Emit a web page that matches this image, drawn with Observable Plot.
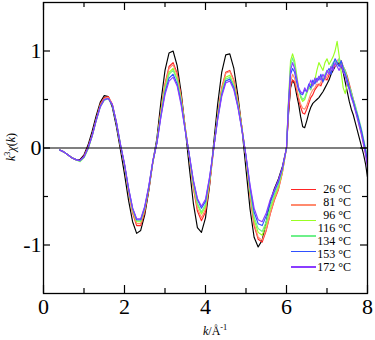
<!DOCTYPE html>
<html><head><meta charset="utf-8">
<script src="https://cdn.jsdelivr.net/npm/d3@7"></script>
<script src="https://cdn.jsdelivr.net/npm/@observablehq/plot@0.6"></script>
<style>
body{margin:0;background:#fff;}
#wrap{position:relative;width:375px;height:340px;font-family:"Liberation Serif","Times New Roman",serif;color:#000;}
.lab{position:absolute;white-space:nowrap;}
.sw{position:absolute;height:0;}
sup{font-size:70%;}
</style></head><body><div id="wrap"></div>
<script>
// k grid (Å^-1)
const K = [0.4,0.5,0.6,0.7,0.8,0.9,1.0,1.1,1.2,1.3,1.4,1.5,1.6,1.7,1.8,1.9,
2.0,2.1,2.2,2.3,2.4,2.5,2.6,2.7,2.8,2.9,3.0,3.1,3.2,3.3,3.4,3.5,
3.6,3.7,3.8,3.9,4.0,4.1,4.2,4.3,4.4,4.5,4.6,4.7,4.8,4.9,
5.0,5.1,5.2,5.3,5.4,5.5,5.6,5.7,5.8,5.9,
6.0,6.05,6.1,6.15,6.2,6.25,6.3,6.35,6.4,6.45,6.5,6.55,6.6,6.65,6.7,6.75,6.8,6.85,6.9,6.95,
7.0,7.05,7.1,7.15,7.2,7.25,7.3,7.35,7.4,7.45,7.5,7.55,7.6,7.65,7.7,7.75,7.8,7.85,7.9,7.95,8.0];

const sBlack = [-0.02,-0.04,-0.07,-0.10,-0.12,-0.12,-0.07,0.03,0.17,0.33,0.47,0.54,0.53,0.42,0.22,-0.02,
-0.27,-0.54,-0.76,-0.88,-0.85,-0.69,-0.44,-0.14,
0.10,0.48,0.80,0.98,1.00,0.85,0.57,0.20,
-0.20,-0.57,-0.82,-0.87,-0.72,-0.39,0.04,
0.45,0.78,0.96,0.97,0.82,0.54,0.20,
-0.22,-0.63,-0.92,-1.02,-0.95,-0.76,-0.55,-0.42,-0.32,-0.19,
0.0,0.35,0.62,0.70,0.66,0.55,0.45,0.32,0.22,0.21,0.28,0.36,0.42,0.46,0.48,0.50,0.52,0.55,0.58,0.62,
0.66,0.70,0.76,0.80,0.84,0.86,0.88,0.85,0.78,0.68,0.58,0.48,0.40,0.34,0.26,0.18,0.10,0.02,-0.06,-0.16,-0.30];

const sRed = [-0.02,-0.04,-0.07,-0.10,-0.12,-0.13,-0.08,0.01,0.14,0.30,0.45,0.52,0.53,0.45,0.26,0.02,
-0.18,-0.45,-0.67,-0.80,-0.80,-0.66,-0.43,-0.15,
0.06,0.39,0.66,0.84,0.88,0.77,0.53,0.21,
-0.09,-0.41,-0.65,-0.75,-0.66,-0.38,-0.02,
0.34,0.62,0.78,0.80,0.70,0.49,0.21,
-0.10,-0.49,-0.80,-0.94,-0.97,-0.85,-0.68,-0.54,-0.43,-0.25,
0.0,0.38,0.64,0.70,0.68,0.60,0.50,0.42,0.36,0.35,0.40,0.46,0.52,0.55,0.60,0.63,0.66,0.64,0.70,0.72,
0.70,0.75,0.78,0.82,0.86,0.88,0.85,0.90,0.84,0.80,0.74,0.66,0.58,0.50,0.42,0.34,0.25,0.16,0.06,-0.04,-0.15];

const sSalmon = [-0.02,-0.04,-0.07,-0.10,-0.12,-0.13,-0.09,0.0,0.13,0.29,0.44,0.51,0.52,0.45,0.26,0.03,
-0.18,-0.44,-0.66,-0.78,-0.78,-0.64,-0.42,-0.14,
0.06,0.38,0.65,0.82,0.86,0.75,0.52,0.21,
-0.09,-0.40,-0.62,-0.72,-0.63,-0.36,-0.01,
0.34,0.61,0.77,0.79,0.69,0.48,0.21,
-0.10,-0.48,-0.78,-0.92,-0.95,-0.84,-0.67,-0.53,-0.42,-0.25,
0.0,0.40,0.68,0.76,0.72,0.62,0.52,0.45,0.41,0.40,0.44,0.50,0.56,0.60,0.62,0.66,0.64,0.68,0.72,0.70,
0.74,0.78,0.82,0.86,0.84,0.90,0.92,0.86,0.82,0.78,0.70,0.62,0.55,0.48,0.40,0.32,0.22,0.14,0.04,-0.06,-0.18];

const sYellowGreen = [-0.02,-0.04,-0.07,-0.10,-0.12,-0.14,-0.10,-0.01,0.12,0.28,0.43,0.50,0.51,0.44,0.26,0.03,
-0.17,-0.43,-0.64,-0.76,-0.76,-0.62,-0.41,-0.14,
0.06,0.36,0.62,0.78,0.82,0.71,0.49,0.20,
-0.08,-0.37,-0.58,-0.68,-0.60,-0.34,-0.01,
0.32,0.58,0.73,0.75,0.65,0.46,0.20,
-0.09,-0.45,-0.74,-0.87,-0.90,-0.79,-0.63,-0.50,-0.40,-0.23,
0.0,0.50,0.90,0.97,0.90,0.76,0.62,0.52,0.48,0.50,0.56,0.62,0.66,0.64,0.70,0.80,0.88,0.84,0.80,0.88,
0.92,0.86,0.90,0.94,1.00,1.10,0.95,0.78,0.62,0.56,0.66,0.62,0.54,0.46,0.40,0.32,0.24,0.16,0.08,-0.02,-0.12];

const sLightGreen = [-0.02,-0.04,-0.07,-0.10,-0.12,-0.14,-0.10,-0.01,0.12,0.28,0.42,0.49,0.51,0.44,0.27,0.04,
-0.17,-0.42,-0.63,-0.75,-0.75,-0.62,-0.40,-0.14,
0.06,0.35,0.60,0.76,0.80,0.70,0.48,0.19,
-0.08,-0.36,-0.57,-0.66,-0.58,-0.33,-0.01,
0.31,0.56,0.71,0.73,0.64,0.44,0.19,
-0.09,-0.43,-0.71,-0.83,-0.86,-0.76,-0.60,-0.48,-0.38,-0.22,
0.0,0.48,0.85,0.93,0.86,0.72,0.60,0.54,0.50,0.52,0.58,0.62,0.60,0.66,0.70,0.68,0.74,0.72,0.70,0.76,
0.80,0.78,0.84,0.88,0.90,0.86,0.92,0.88,0.84,0.80,0.72,0.64,0.58,0.50,0.44,0.36,0.28,0.20,0.10,0.0,-0.10];

const sBlue = [-0.02,-0.04,-0.07,-0.10,-0.12,-0.13,-0.09,0.0,0.13,0.29,0.43,0.50,0.51,0.44,0.26,0.03,
-0.17,-0.42,-0.62,-0.74,-0.74,-0.61,-0.40,-0.14,
0.05,0.33,0.57,0.72,0.76,0.66,0.46,0.18,
-0.07,-0.34,-0.53,-0.62,-0.55,-0.31,-0.01,
0.30,0.55,0.69,0.71,0.62,0.43,0.19,
-0.08,-0.40,-0.66,-0.78,-0.80,-0.70,-0.56,-0.45,-0.35,-0.21,
0.0,0.45,0.76,0.82,0.78,0.68,0.60,0.56,0.55,0.60,0.58,0.66,0.62,0.70,0.66,0.72,0.70,0.76,0.68,0.74,
0.78,0.82,0.76,0.86,0.92,0.88,0.84,0.90,0.82,0.76,0.70,0.62,0.54,0.48,0.40,0.34,0.26,0.18,0.08,-0.02,-0.14];

const sPurple = [-0.02,-0.04,-0.07,-0.10,-0.12,-0.13,-0.09,0.0,0.12,0.28,0.42,0.50,0.51,0.45,0.27,0.04,
-0.16,-0.41,-0.62,-0.73,-0.73,-0.60,-0.39,-0.13,
0.05,0.32,0.55,0.69,0.73,0.64,0.44,0.18,
-0.07,-0.33,-0.52,-0.60,-0.53,-0.30,-0.01,
0.29,0.53,0.67,0.69,0.60,0.42,0.18,
-0.08,-0.38,-0.62,-0.74,-0.76,-0.67,-0.53,-0.43,-0.33,-0.20,
0.0,0.46,0.80,0.88,0.82,0.72,0.62,0.58,0.56,0.62,0.58,0.64,0.70,0.64,0.72,0.68,0.74,0.70,0.76,0.72,
0.80,0.76,0.84,0.80,0.88,0.84,0.80,0.86,0.78,0.74,0.66,0.60,0.52,0.46,0.38,0.30,0.22,0.14,0.04,-0.06,-0.20];

const seriesValues = [sBlack, sRed, sSalmon, sYellowGreen, sLightGreen, sBlue, sPurple];
const seriesColors = ["#000000", "#ff2424", "#ff8a6e", "#99ff22", "#6ef08a", "#2f50ff", "#8a3cff"];

const legendLabels = ["26 °C", "81 °C", "96 °C", "116 °C", "134 °C", "153 °C", "172 °C"];
const legendSwatchColors = ["#ff2424", "#ff8a6e", "#99ff22", "#6ef08a", "#2f50ff", "#8a3cff"];
const legendSwatchWidths = [1.3, 2.6, 1.3, 2.6, 1.3, 2.2];

const xMajor = [0, 2, 4, 6, 8];
const xMinor = [1, 3, 5, 7];
const yMajor = [-1, 0, 1];
const yMinor = [-0.5, 0.5];

const SERIF = '"Liberation Serif","Times New Roman",serif';
const W = 375, H = 340, mL = 43, mR = 8, mT = 2, mB = 47;
const fw = W - mL - mR, fh = H - mT - mB;

const lines = seriesValues.map((vals, j) =>
  Plot.line(K, {x: d => d, y: (d, i) => vals[i], stroke: seriesColors[j], strokeWidth: 1.15}));

const chart = Plot.plot({
  width: W, height: H,
  marginLeft: mL, marginRight: mR, marginTop: mT, marginBottom: mB,
  x: {domain: [0, 8]},
  y: {domain: [-1.5, 1.5]},
  style: {fontFamily: SERIF, fontSize: "22px", background: "white", color: "black"},
  marks: [
    ...lines,
    Plot.ruleY([0], {stroke: "black", strokeWidth: 1.2}),
    Plot.tickX(xMajor, {x: d => d, insetTop: fh - 8, stroke: "black", strokeWidth: 1.2}),
    Plot.tickX(xMajor, {x: d => d, insetBottom: fh - 8, stroke: "black", strokeWidth: 1.2}),
    Plot.tickX(xMinor, {x: d => d, insetTop: fh - 5, stroke: "black", strokeWidth: 1.2}),
    Plot.tickX(xMinor, {x: d => d, insetBottom: fh - 5, stroke: "black", strokeWidth: 1.2}),
    Plot.tickY(yMajor, {y: d => d, insetRight: fw - 7, stroke: "black", strokeWidth: 1.2}),
    Plot.tickY(yMajor, {y: d => d, insetLeft: fw - 7, stroke: "black", strokeWidth: 1.2}),
    Plot.tickY(yMinor, {y: d => d, insetRight: fw - 5, stroke: "black", strokeWidth: 1.2}),
    Plot.tickY(yMinor, {y: d => d, insetLeft: fw - 5, stroke: "black", strokeWidth: 1.2}),
    Plot.frame({stroke: "black", strokeWidth: 1.3}),
    Plot.axisX({ticks: xMajor, tickSize: 0, tickPadding: 5, label: null, tickFormat: d => String(d),
                fontFamily: SERIF, fontSize: 22}),
    Plot.axisY({ticks: yMajor, tickSize: 0, tickPadding: 2, label: null, tickFormat: d => String(d),
                fontFamily: SERIF, fontSize: 22})
  ]
});

const wrap = document.getElementById("wrap");
wrap.appendChild(chart);

// axis titles
const xl = document.createElement("div");
xl.className = "lab";
xl.style.cssText = "left:203px;top:321px;font-size:12px;line-height:14px;";
xl.innerHTML = "<i>k</i>/Å<sup>-1</sup>";
wrap.appendChild(xl);

const yl = document.createElement("div");
yl.className = "lab";
yl.style.cssText = "left:9px;top:147px;font-size:12px;line-height:14px;transform:translate(-50%,-50%) rotate(-90deg);";
yl.innerHTML = "<i>k</i><sup>3</sup><i>χ</i>(<i>k</i>)";
wrap.appendChild(yl);

// legend
legendLabels.forEach((t, i) => {
  const d = document.createElement("div");
  d.className = "lab";
  d.style.cssText = `right:${W - 351}px;top:${189.3 + i * 12.9 - 7}px;font-size:12px;line-height:14px;text-align:right;`;
  d.textContent = t;
  wrap.appendChild(d);
});
legendSwatchColors.forEach((c, i) => {
  const s = document.createElement("div");
  s.className = "sw";
  const w = legendSwatchWidths[i];
  s.style.cssText = `left:291px;width:25px;top:${189.3 + i * 15.5 - w / 2}px;border-top:${w}px solid ${c};`;
  wrap.appendChild(s);
});
</script>
</body></html>
